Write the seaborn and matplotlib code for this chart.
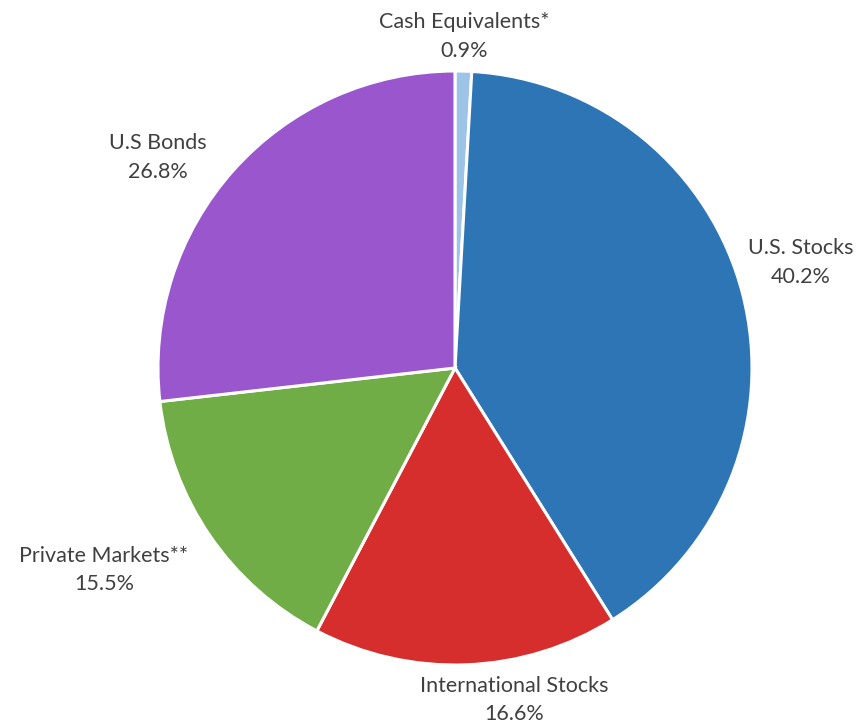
import matplotlib
matplotlib.use("Agg")
import matplotlib.pyplot as plt
import seaborn as sns
import numpy as np

sns.set_theme(style="white")
plt.rcParams['font.family'] = ['Lato', 'DejaVu Sans']

categories = ["Cash Equivalents*", "U.S. Stocks", "International Stocks", "Private Markets**", "U.S Bonds"]
values = [0.9, 40.2, 16.6, 15.5, 26.8]
colors = ["#9DC3E6", "#2E75B6", "#D62D2D", "#70AD47", "#9A57CD"]
# label positions (in pie-radius units)
label_pos = [(0.030, 1.117), (1.165, 0.356), (0.199, -1.118), (-1.182, -0.680), (-1.0, 0.710)]

fig = plt.figure(figsize=(8.6, 7.27), dpi=100)
ax = fig.add_axes([0, 0, 1, 1])
wedges, _ = ax.pie(values, colors=colors, startangle=90, counterclock=False,
                   radius=1.0, wedgeprops=dict(edgecolor="white", linewidth=2.2))
for cat, v, (x, y) in zip(categories, values, label_pos):
    ax.text(x, y, f"{cat}\n{v:.1f}%", ha="center", va="center", fontsize=15.5,
            color="#404040", linespacing=1.55)
ax.set_xlim(-455/297, (860-455)/297)
ax.set_ylim(-(727-368)/297, 368/297)
ax.set_aspect("equal")
ax.axis("off")
fig.savefig("out.png", dpi=100)
